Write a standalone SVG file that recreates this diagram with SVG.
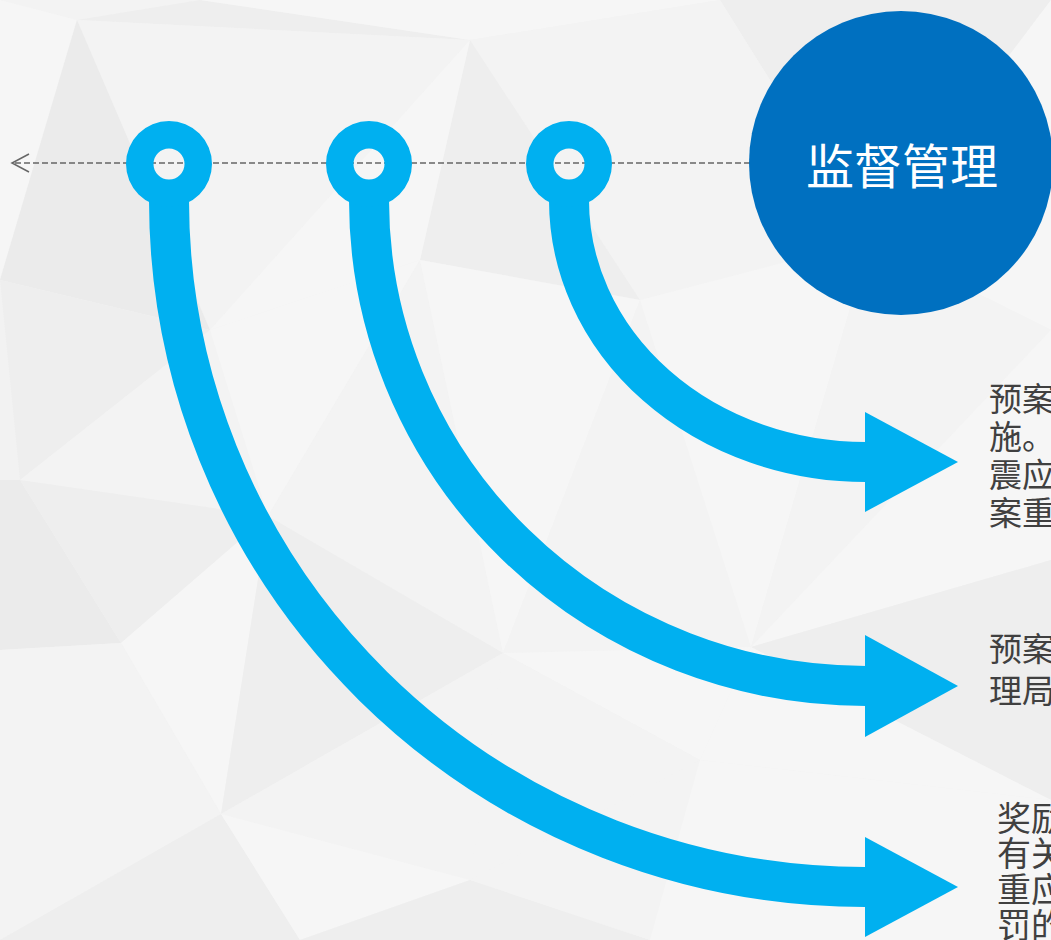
<svg xmlns="http://www.w3.org/2000/svg" width="1051" height="940" viewBox="0 0 1051 940">
<style>
.bg1{fill:#EEEEEE}.bg2{fill:#F3F3F3}.bg3{fill:#F6F6F6}.bg4{fill:#EBEBEB}
.ring{fill:#00B0F0;fill-rule:evenodd}
.curve{fill:none;stroke:#00B0F0;stroke-width:40}
.head{fill:#00B0F0}
.dash{fill:none;stroke:#666666;stroke-width:1.5;stroke-dasharray:6 3}
.chev{fill:none;stroke:#666666;stroke-width:1.5}
.txt{font-family:"Noto Sans CJK SC","Noto Sans",sans-serif;font-size:33px;fill:#404040}
.txt3{font-size:34px}
.title{font-family:"Noto Sans CJK SC","Noto Sans",sans-serif;font-size:48px;fill:#FFFFFF}
</style>
<g id="background">
<rect width="1051" height="940" fill="#F2F2F2"/>
<polygon class="bg2" points="0,0 200,0 77,20"/>
<polygon class="bg1" points="77,20 200,0 470,40"/>
<polygon class="bg3" points="0,0 77,20 0,280"/>
<polygon class="bg2" points="77,20 470,40 210,330"/>
<polygon class="bg4" points="0,280 77,20 210,330"/>
<polygon class="bg3" points="200,0 470,40 720,0"/>
<polygon class="bg2" points="470,40 720,0 640,300"/>
<polygon class="bg1" points="470,40 420,260 640,300"/>
<polygon class="bg3" points="210,330 470,40 420,260"/>
<polygon class="bg1" points="720,0 1051,0 870,240"/>
<polygon class="bg2" points="720,0 870,240 640,300"/>
<polygon class="bg3" points="870,240 1051,0 1051,330"/>
<polygon class="bg1" points="0,280 210,330 20,480"/>
<polygon class="bg2" points="20,480 210,330 268,516"/>
<polygon class="bg3" points="210,330 420,260 268,516"/>
<polygon class="bg2" points="268,516 420,260 503,653"/>
<polygon class="bg3" points="420,260 640,300 503,653"/>
<polygon class="bg2" points="503,653 640,300 751,647"/>
<polygon class="bg3" points="640,300 870,240 751,647"/>
<polygon class="bg2" points="870,240 1051,330 751,647"/>
<polygon class="bg3" points="751,647 1051,330 1051,560"/>
<polygon class="bg4" points="0,650 0,480 20,480 121,643"/>
<polygon class="bg1" points="20,480 268,516 121,643"/>
<polygon class="bg3" points="121,643 268,516 221,814"/>
<polygon class="bg1" points="221,814 268,516 503,653"/>
<polygon class="bg2" points="221,814 503,653 470,880"/>
<polygon class="bg3" points="503,653 751,647 700,760"/>
<polygon class="bg2" points="503,653 700,760 470,880"/>
<polygon class="bg1" points="751,647 1051,560 1051,800"/>
<polygon class="bg3" points="751,647 1051,800 700,760"/>
<polygon class="bg2" points="0,650 121,643 221,814 0,940"/>
<polygon class="bg1" points="0,940 221,814 300,940"/>
<polygon class="bg3" points="221,814 470,880 300,940"/>
<polygon class="bg1" points="300,940 470,880 650,940"/>
<polygon class="bg2" points="470,880 700,760 650,940"/>
<polygon class="bg3" points="700,760 1051,800 1051,940 650,940"/>
</g>
<g id="connectors">
<line class="dash" x1="750" y1="163" x2="13" y2="163"/>
<polyline class="chev" points="29,154 12,163 29,172"/>
<path class="curve" d="M169 185 V200 A696 687 0 0 0 866 887"/>
<path class="curve" d="M369 185 V200 A497 486 0 0 0 866 686"/>
<path class="curve" d="M569 185 V200 A297 262 0 0 0 866 462"/>
<polygon class="head" points="865,837 958,887 865,937"/>
<polygon class="head" points="865,635 958,686 865,737"/>
<polygon class="head" points="865,412 958,462 865,512"/>
</g>
<g id="node-ring-1"><path class="ring" d="M126 164 a43 43 0 1 0 86 0 a43 43 0 1 0 -86 0 Z M153.5 164 a15.5 15.5 0 1 0 31 0 a15.5 15.5 0 1 0 -31 0 Z"/></g>
<g id="node-ring-2"><path class="ring" d="M326 164 a43 43 0 1 0 86 0 a43 43 0 1 0 -86 0 Z M353.5 164 a15.5 15.5 0 1 0 31 0 a15.5 15.5 0 1 0 -31 0 Z"/></g>
<g id="node-ring-3"><path class="ring" d="M526 164 a43 43 0 1 0 86 0 a43 43 0 1 0 -86 0 Z M553.5 164 a15.5 15.5 0 1 0 31 0 a15.5 15.5 0 1 0 -31 0 Z"/></g>
<g id="node-center">
<circle cx="901" cy="163" r="152" fill="#0070C0"/>
<text class="title" x="902" y="184" text-anchor="middle">监督管理</text>
</g>
<g id="node-text-1">
<text class="txt" x="989" y="411">预案</text>
<text class="txt" x="989" y="449">施。</text>
<text class="txt" x="989" y="487">震应</text>
<text class="txt" x="989" y="525">案重</text>
</g>
<g id="node-text-2">
<text class="txt" x="989" y="661">预案</text>
<text class="txt" x="989" y="703">理局</text>
</g>
<g id="node-text-3">
<text class="txt txt3" x="997" y="831">奖励</text>
<text class="txt txt3" x="997" y="866">有关</text>
<text class="txt txt3" x="997" y="902">重应</text>
<text class="txt txt3" x="997" y="938">罚的</text>
</g>
</svg>
